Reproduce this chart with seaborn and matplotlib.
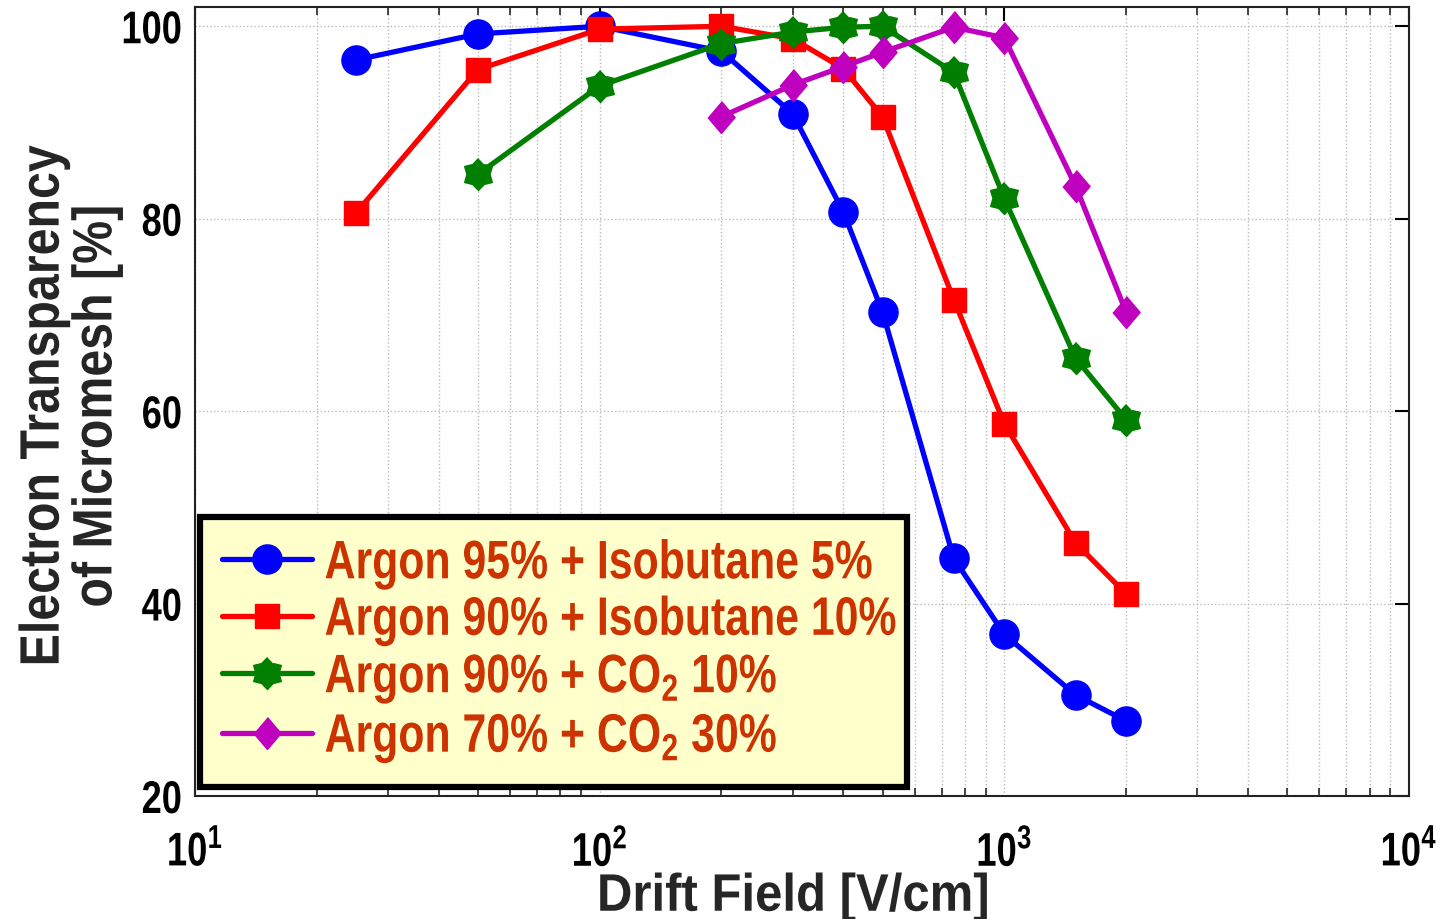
import numpy as np
import pandas as pd
import matplotlib
matplotlib.use("Agg")
import matplotlib.pyplot as plt
from matplotlib.ticker import LogLocator, NullFormatter, FixedLocator
from matplotlib.patheffects import AbstractPathEffect
from matplotlib.transforms import Affine2D
import seaborn as sns

# Drift field values [V/cm] and transparency [%] for each gas mixture
field_ar95_iso5 = [25, 50, 100, 200, 300, 400, 500, 750, 1000, 1500, 2000]
trans_ar95_iso5 = [96.5, 99.2, 100.0, 97.4, 90.9, 80.7, 70.3, 44.7, 36.8, 30.5, 27.8]

field_ar90_iso10 = [25, 50, 100, 200, 300, 400, 500, 750, 1000, 1500, 2000]
trans_ar90_iso10 = [80.6, 95.5, 99.7, 100.0, 98.7, 95.6, 90.6, 71.6, 58.7, 46.3, 41.0]

field_ar90_co2_10 = [50, 100, 200, 300, 400, 500, 750, 1000, 1500, 2000]
trans_ar90_co2_10 = [84.6, 93.8, 98.2, 99.4, 99.9, 100.0, 95.2, 82.1, 65.5, 59.1]

field_ar70_co2_30 = [200, 300, 400, 500, 750, 1000, 1500, 2000]
trans_ar70_co2_30 = [90.6, 93.9, 95.8, 97.3, 99.9, 98.8, 83.4, 70.3]

series_labels = [
    "Argon 95% + Isobutane 5%",
    "Argon 90% + Isobutane 10%",
    r"Argon 90% + CO$_\mathregular{2}$ 10%",
    r"Argon 70% + CO$_\mathregular{2}$ 30%",
]
y_ticks = [20, 40, 60, 80, 100]


class Condense(AbstractPathEffect):
    """Squeeze glyphs horizontally around a point of the text line."""

    def __init__(self, sx, anchor=0.0):
        super().__init__()
        self.sx = sx
        self.anchor = anchor  # 0 = left edge, 0.5 = centre, 1 = right edge

    def draw_path(self, renderer, gc, tpath, affine, rgbFace=None):
        v = tpath.vertices
        xr = v[:, 0].max() if len(v) else 0.0
        ax0 = self.anchor * xr
        squeeze = Affine2D().translate(-ax0, 0).scale(self.sx, 1.0).translate(ax0, 0)
        renderer.draw_path(gc, tpath, squeeze + affine, rgbFace)


sns.set_style("white")
plt.rcParams["font.family"] = ["Liberation Sans", "DejaVu Sans"]
plt.rcParams["font.weight"] = "bold"
plt.rcParams["mathtext.fontset"] = "custom"
plt.rcParams["mathtext.rm"] = "Liberation Sans:bold"
plt.rcParams["mathtext.it"] = "Liberation Sans:bold"
plt.rcParams["mathtext.bf"] = "Liberation Sans:bold"
plt.rcParams["mathtext.default"] = "regular"

frames = []
for lab, xs, ys in [
    (series_labels[0], field_ar95_iso5, trans_ar95_iso5),
    (series_labels[1], field_ar90_iso10, trans_ar90_iso10),
    (series_labels[2], field_ar90_co2_10, trans_ar90_co2_10),
    (series_labels[3], field_ar70_co2_30, trans_ar70_co2_30),
]:
    frames.append(pd.DataFrame({"field": xs, "trans": ys, "gas": lab}))
df = pd.concat(frames, ignore_index=True)

# six-pointed star and slim diamond markers
ang = np.pi / 2 + np.arange(12) * np.pi / 6
rad = np.where(np.arange(12) % 2 == 0, 1.0, 0.72)
hexagram = list(zip(rad * np.cos(ang), rad * np.sin(ang)))
diamond = [(0, 1), (0.85, 0), (0, -1), (-0.85, 0)]

colors = ["#0000FF", "#FF0000", "#007F00", "#BF00BF"]
markers = ["o", "s", hexagram, diamond]
msizes = [21, 17, 23, 23]

fig = plt.figure(figsize=(14.47, 9.20), dpi=100)
ax = fig.add_axes([0.1348, 0.1337, 0.8389, 0.8576])

handles = []
for lab, col, mk, ms in zip(series_labels, colors, markers, msizes):
    sub = df[df["gas"] == lab]
    sns.lineplot(data=sub, x="field", y="trans", ax=ax, color=col, lw=3.8,
                 marker=mk, markersize=ms, markeredgecolor=col,
                 markerfacecolor=col, markeredgewidth=1, label=lab,
                 legend=False, sort=False, estimator=None)
    handles.append(ax.lines[-1])

ax.set_xscale("log")
ax.set_xlim(10, 1e4)
ax.set_ylim(20, 102)
ax.yaxis.set_major_locator(FixedLocator(y_ticks))
ax.xaxis.set_major_locator(LogLocator(base=10))
ax.xaxis.set_minor_locator(LogLocator(base=10, subs=np.arange(2, 10)))
ax.xaxis.set_minor_formatter(NullFormatter())

ax.grid(True, which="major", axis="both", color="#BBBBBB", ls=":", lw=1.0)
ax.grid(True, which="minor", axis="x", color="#BBBBBB", ls=":", lw=1.0)

ax.tick_params(axis="both", which="major", direction="in", length=10, width=1.5,
               top=True, right=True, colors="black")
ax.tick_params(axis="x", which="minor", direction="in", length=6, width=1.2,
               top=True, bottom=True)
ax.tick_params(axis="x", which="major", pad=25, labelsize=34)
ax.tick_params(axis="y", which="major", pad=9, labelsize=33)
for sp in ax.spines.values():
    sp.set_color("#222222")
    sp.set_linewidth(1.5)

ax.set_xlabel("Drift Field [V/cm]", fontsize=38, fontweight="bold")
ax.xaxis.set_label_coords(0.4926, -0.096)
ax.set_ylabel("Electron Transparency\nof Micromesh [%]", fontsize=40,
              fontweight="bold", linespacing=1.02)
ax.yaxis.set_label_coords(-0.059, 0.494)
ax.xaxis.label.set_path_effects([Condense(0.93, 0.5)])
ax.yaxis.label.set_path_effects([Condense(0.87, 0.5)])

leg = ax.legend(handles=handles, labels=series_labels, loc="lower left",
                bbox_to_anchor=(0.0041, 0.0114, 0.5824, 0.0), mode="expand",
                fontsize=39, frameon=True, fancybox=False, handlelength=1.65,
                handletextpad=0.24, borderpad=0.41, labelspacing=0.12,
                borderaxespad=0.0)
frame = leg.get_frame()
frame.set_facecolor("#FFFFCC")
frame.set_edgecolor("black")
frame.set_linewidth(4.5)
frame.set_alpha(1.0)
for t in leg.get_texts():
    t.set_color("#CC3300")
    t.set_fontweight("bold")
    t.set_path_effects([Condense(0.79, 0.0)])

fig.canvas.draw()
for t in ax.get_xticklabels():
    t.set_path_effects([Condense(0.77, 0.5)])
for t in ax.get_yticklabels():
    t.set_path_effects([Condense(0.79, 1.0)])

fig.savefig("out.png", dpi=100, facecolor="white")
